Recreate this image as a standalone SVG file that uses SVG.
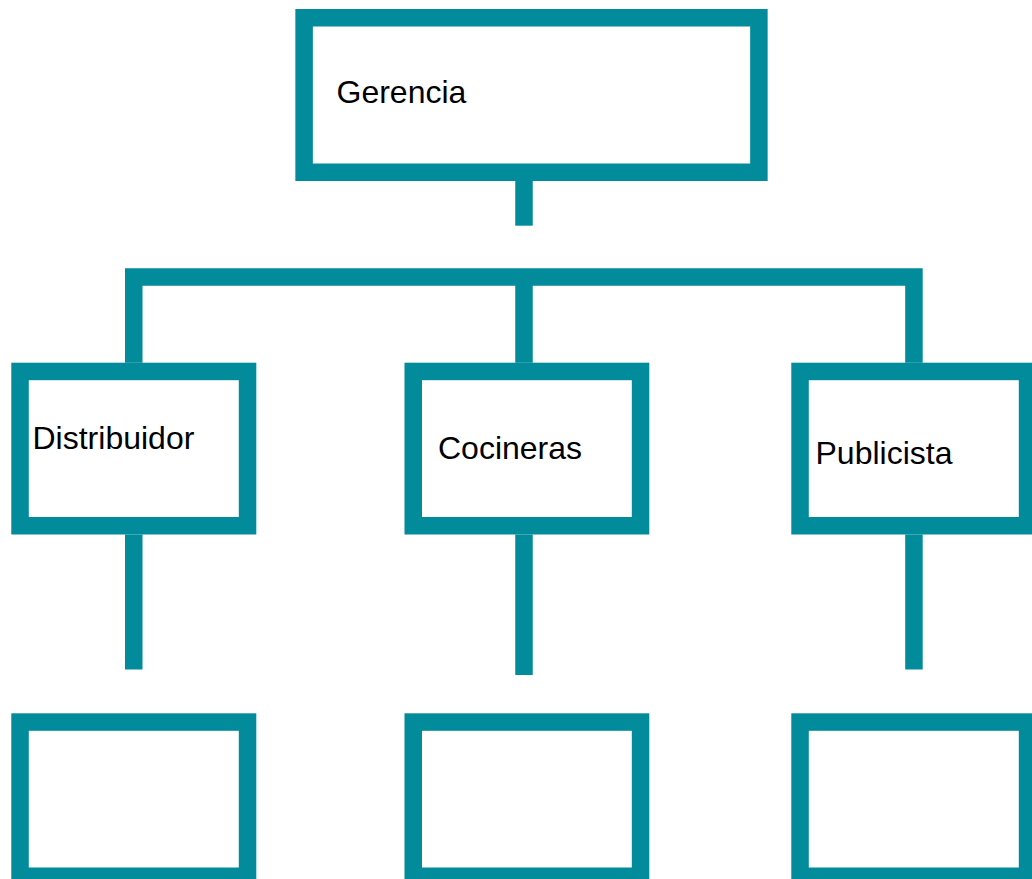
<svg xmlns="http://www.w3.org/2000/svg" width="1032" height="879" viewBox="0 0 1032 879">
<style>
.box{fill:#ffffff;stroke:#028b9b;stroke-width:17.5}
.con{fill:none;stroke:#028b9b;stroke-width:17.5;stroke-linecap:butt;stroke-linejoin:miter}
.lbl{font-family:"Liberation Sans",Arial,sans-serif;font-size:32px;fill:#000000}
</style>
<rect width="1032" height="879" fill="#ffffff"/>
<g id="connectors">
<line class="con" x1="524" y1="181" x2="524" y2="225.7"/>
<polyline class="con" points="133.75,362.7 133.75,277.05 913.95,277.05 913.95,362.7"/>
<line class="con" x1="524" y1="277" x2="524" y2="362.7"/>
<line class="con" x1="133.75" y1="534.5" x2="133.75" y2="669.5"/>
<line class="con" x1="524" y1="534.5" x2="524" y2="675"/>
<line class="con" x1="913.95" y1="534.5" x2="913.95" y2="669.5"/>
</g>
<g id="gerencia">
<rect class="box" x="304.1" y="17.75" width="454.8" height="154.5"/>
<text class="lbl" x="336.5" y="103">Gerencia</text>
</g>
<g id="distribuidor">
<rect class="box" x="20.05" y="371.45" width="227.5" height="154.3"/>
<text class="lbl" x="32.5" y="449.3">Distribuidor</text>
</g>
<g id="cocineras">
<rect class="box" x="413.25" y="371.45" width="227.3" height="154.3"/>
<text class="lbl" x="438" y="459">Cocineras</text>
</g>
<g id="publicista">
<rect class="box" x="800.05" y="371.45" width="227.5" height="154.3"/>
<text class="lbl" x="815.5" y="463.5">Publicista</text>
</g>
<g id="distribuidor-sub">
<rect class="box" x="20.05" y="722.05" width="227.5" height="154.2"/>
</g>
<g id="cocineras-sub">
<rect class="box" x="413.25" y="722.05" width="227.3" height="154.2"/>
</g>
<g id="publicista-sub">
<rect class="box" x="800.05" y="722.05" width="227.5" height="154.2"/>
</g>
</svg>
